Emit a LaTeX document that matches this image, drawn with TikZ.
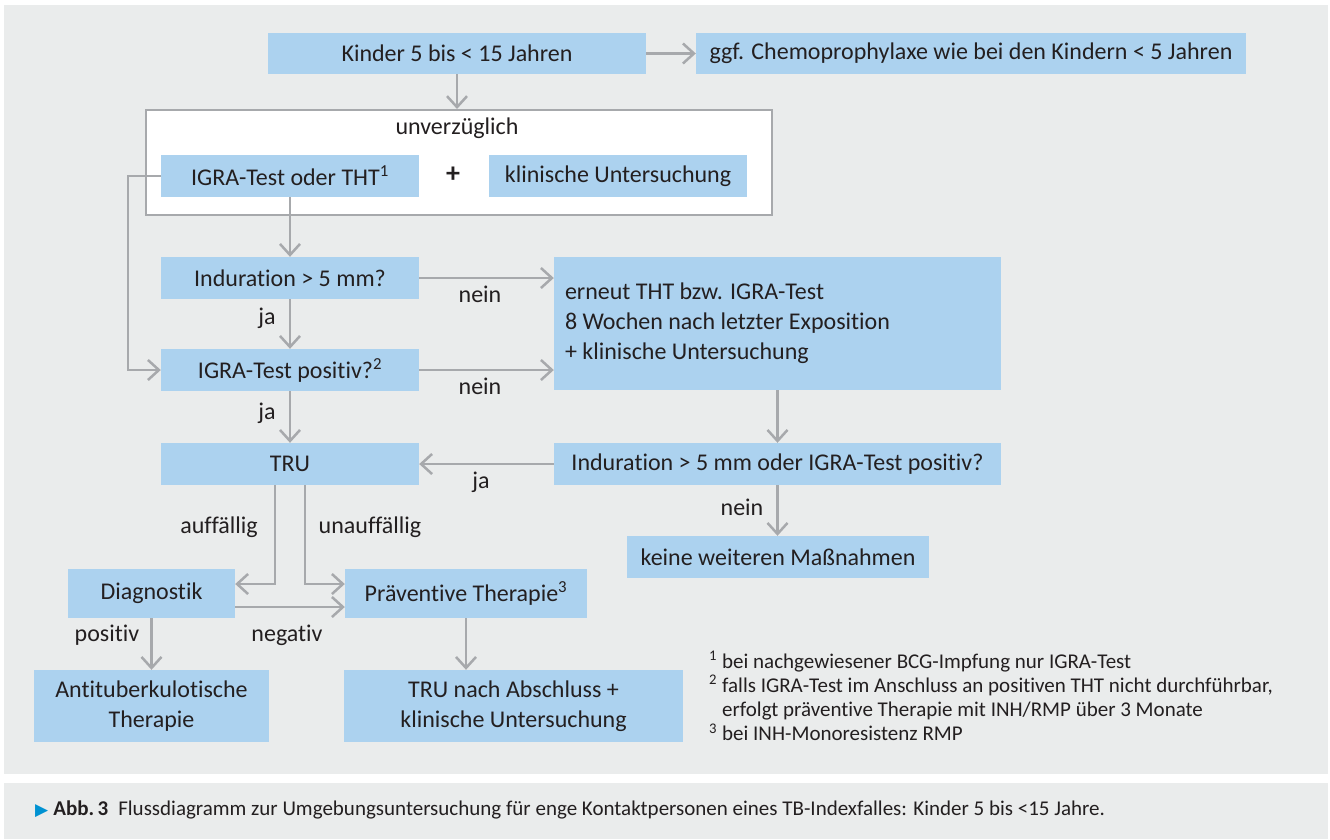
\documentclass[tikz,border=0pt]{standalone}
\usepackage{fontspec}
\setmainfont{Carlito}[Ligatures={TeX,NoCommon}]
\newfontfamily\symbolschrift{DejaVu Sans}
\usetikzlibrary{positioning, arrows.meta, calc}
\definecolor{kastenblau}{RGB}{172,210,239}
\definecolor{hintergrund}{RGB}{234,236,236}
\definecolor{linie}{RGB}{167,169,172}
\definecolor{schrift}{RGB}{35,31,32}
\definecolor{pfeilblau}{RGB}{0,146,210}

\begin{document}
\begin{tikzpicture}[x=1pt, y=-1pt, font=\fontsize{24}{30}\selectfont, text=schrift,
    kasten/.style={fill=kastenblau, inner sep=0pt, align=center},
    pfeil/.style={draw=linie, line width=2.5pt, -{Straight Barb[length=11pt, width=20pt]}},
    marke/.style={font=\fontsize{24}{28}\selectfont}]
    % Hintergrund
    \useasboundingbox[fill=white] (0,0) rectangle (1330,839);
    \fill[hintergrund] (4,5) rectangle (1328,774);
    \fill[hintergrund] (4,783) rectangle (1328,839);
    % Kaesten oben
    \node[kasten, minimum width=378pt, minimum height=41pt] (kinder) at (457,53.5) {Kinder 5 bis < 15 Jahren};
    \node[kasten, minimum width=550pt, minimum height=41pt] (chemo) at (971,53.5) {ggf. Chemoprophylaxe wie bei den Kindern < 5 Jahren};
    \node[draw=linie, line width=2pt, fill=white, inner sep=0pt,
          minimum width=626pt, minimum height=105pt] (rahmen) at (459,162.5) {};
    \node (unverz) at (457,128) {unverzüglich};
    \node[kasten, minimum width=258pt, minimum height=42pt] (igra) at (290,176) {IGRA-Test oder THT\textsuperscript{1}};
    \node[font=\fontsize{28}{30}\selectfont\bfseries] (plus) at (453,175) {+};
    \node[kasten, minimum width=258pt, minimum height=42pt] (klinisch) at (618,176) {klinische Untersuchung};
    % Tests
    \node[kasten, minimum width=258pt, minimum height=42pt] (indur) at (290,278) {Induration > 5 mm?};
    \node[kasten, minimum width=258pt, minimum height=42pt] (igrapos) at (290,370) {IGRA-Test positiv?\textsuperscript{2}};
    \node[kasten, minimum width=447pt, minimum height=133pt, text width=425pt, align=flush left] (erneut) at (777.5,323.5)
          {erneut THT bzw. IGRA-Test\\8 Wochen nach letzter Exposition\\+ klinische Untersuchung};
    \node[kasten, minimum width=447pt, minimum height=42pt] (oder) at (777.5,464) {Induration > 5 mm oder IGRA-Test positiv?};
    \node[kasten, minimum width=302pt, minimum height=42pt] (keine) at (778,557) {keine weiteren Maßnahmen};
    \node[kasten, minimum width=258pt, minimum height=42pt] (tru) at (290,464) {TRU};
    % Therapie
    \node[kasten, minimum width=167pt, minimum height=49pt] (diag) at (151.5,593.5) {Diagnostik};
    \node[kasten, minimum width=242pt, minimum height=49pt] (praev) at (466,593.5) {Präventive Therapie\textsuperscript{3}};
    \node[kasten, minimum width=235pt, minimum height=72pt] (anti) at (151.5,706) {Antituberkulotische\\Therapie};
    \node[kasten, minimum width=339pt, minimum height=72pt] (trunach) at (513.5,706) {TRU nach Abschluss +\\klinische Untersuchung};
    % Pfeile
    \draw[pfeil] (kinder) -- (chemo);
    \draw[pfeil] (kinder.south) -- (kinder.south |- rahmen.north);
    \draw[pfeil] (igra.west) -- ++(-33,0) |- (igrapos.west);
    \draw[pfeil] (igra) -- (indur);
    \draw[pfeil] (indur) -- (igrapos);
    \draw[pfeil] (igrapos) -- (tru);
    \draw[pfeil] (indur.east) -- (indur.east -| erneut.west);
    \draw[pfeil] (igrapos.east) -- (igrapos.east -| erneut.west);
    \draw[pfeil] (erneut) -- (oder);
    \draw[pfeil] (oder) -- (tru);
    \draw[pfeil] (oder.south) -- (oder.south |- keine.north);
    \draw[pfeil] ([xshift=-15pt]tru.south) |- ([yshift=9.5pt]diag.east);
    \draw[pfeil] ([xshift=15pt]tru.south) |- ([yshift=9.5pt]praev.west);
    \draw[pfeil] ([yshift=-13.5pt]diag.east) -- ([yshift=-13.5pt]praev.west);
    \draw[pfeil] (diag) -- (anti);
    \draw[pfeil] (praev.south) -- (praev.south |- trunach.north);
    % Beschriftungen
    \node[marke] (ja1) at (267,318) {ja};
    \node[marke] (ja2) at (267,413) {ja};
    \node[marke] (nein1) at (480,294) {nein};
    \node[marke] (nein2) at (480,386) {nein};
    \node[marke] (ja3) at (481,482) {ja};
    \node[marke] (nein3) at (742,507) {nein};
    \node[marke] (auff) at (219,527) {auffällig};
    \node[marke] (unauff) at (370,527) {unauffällig};
    \node[marke] (pos) at (107,635) {positiv};
    \node[marke] (neg) at (287,635) {negativ};
    % Fussnoten
    \node[anchor=west, inner sep=0pt, font=\fontsize{21}{24}\selectfont] (fussnoten) at (709,699.5)
      {\begin{tabular}{@{}r@{\hspace{5pt}}l@{}}
        \textsuperscript{1} & bei nachgewiesener BCG-Impfung nur IGRA-Test\\
        \textsuperscript{2} & falls IGRA-Test im Anschluss an positiven THT nicht durchführbar,\\
         & erfolgt präventive Therapie mit INH/RMP über 3 Monate\\
        \textsuperscript{3} & bei INH-Monoresistenz RMP
      \end{tabular}};
    % Legende
    \node[anchor=west, inner sep=0pt, font=\fontsize{21}{26}\selectfont] (legende) at (35,810)
      {{\symbolschrift\color{pfeilblau}\fontsize{17}{17}\selectfont ▶}\hspace{5pt}\textbf{Abb.\,3}\hspace{10pt}Flussdiagramm zur Umgebungsuntersuchung für enge Kontaktpersonen eines TB-Indexfalles: Kinder 5 bis <15 Jahre.};
\end{tikzpicture}
\end{document}
